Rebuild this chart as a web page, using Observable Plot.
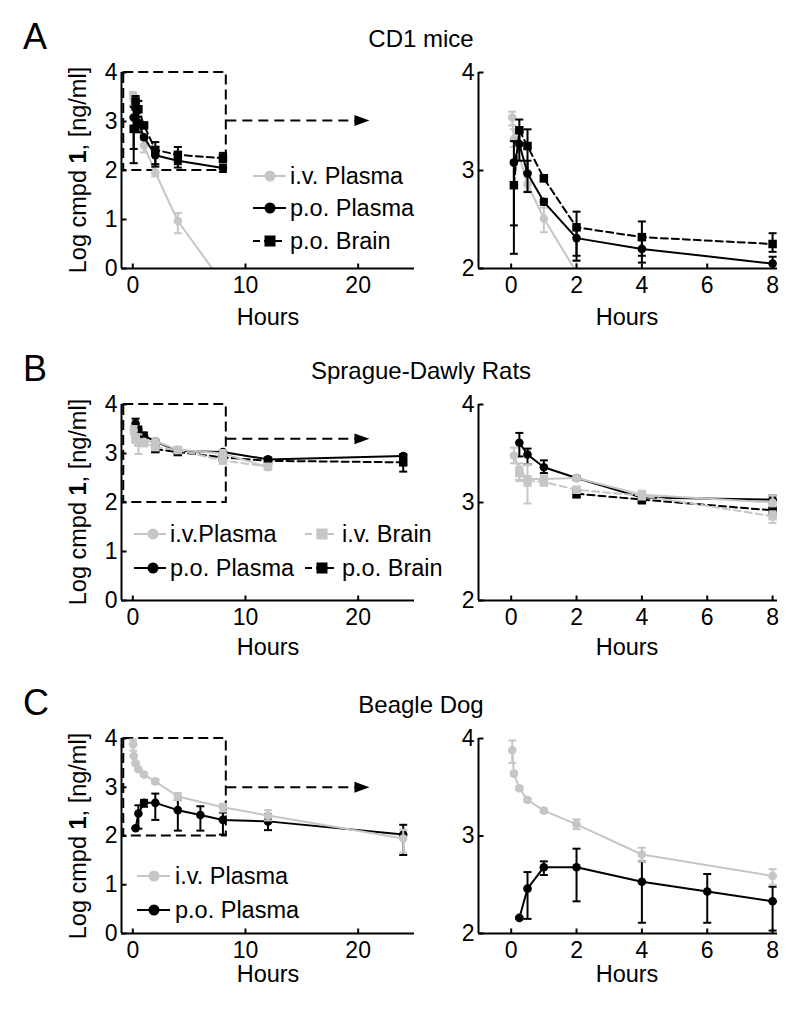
<!DOCTYPE html>
<html>
<head>
<meta charset="utf-8">
<script src="https://cdn.jsdelivr.net/npm/d3@7"></script>
<script src="https://cdn.jsdelivr.net/npm/@observablehq/plot@0.6"></script>
<style>
  html, body { margin: 0; padding: 0; background: #fff; }
  #root { position: relative; width: 800px; height: 1014px; overflow: hidden; background: #fff; }
  #root svg { position: absolute; }
</style>
</head>
<body>
<div id="root"></div>
<script>
// ---------------- DATA ----------------
// Panel A — CD1 mice
const miceIvPlasmaTime  = [0.033, 0.083, 0.5, 1, 2, 4, 8];
const miceIvPlasmaMean  = [3.54, 3.32, 2.86, 2.51, 1.96, 0.97, -0.30];
const miceIvPlasmaUpper = [3.60, 3.42, 2.93, 2.62, 2.08, 1.13, -0.20];
const miceIvPlasmaLower = [3.46, 3.24, 2.79, 2.37, 1.88, 0.72, -0.42];

const micePoPlasmaTime  = [0.083, 0.25, 0.5, 1, 2, 4, 8];
const micePoPlasmaMean  = [3.08, 3.27, 2.97, 2.68, 2.31, 2.20, 2.05];
const micePoPlasmaUpper = [3.30, 3.40, 3.10, 2.71, 2.40, 2.31, 2.12];
const micePoPlasmaLower = [2.44, 3.10, 2.78, 2.65, 2.08, 2.06, 1.97];

const micePoBrainTime  = [0.083, 0.25, 0.5, 1, 2, 4, 8];
const micePoBrainMean  = [2.85, 3.41, 3.25, 2.92, 2.42, 2.32, 2.25];
const micePoBrainUpper = [3.10, 3.52, 3.42, 2.95, 2.58, 2.48, 2.36];
const micePoBrainLower = [2.15, 3.28, 2.98, 2.89, 2.13, 2.13, 2.17];

// Panel B — Sprague-Dawly rats
const ratIvPlasmaTime  = [0.083, 0.25, 0.5, 1, 2, 4, 8, 12];
const ratIvPlasmaMean  = [3.48, 3.34, 3.24, 3.24, 3.25, 3.08, 3.00, 2.72];
const ratIvPlasmaUpper = [3.56, 3.40, 3.39, 3.27, 3.27, 3.12, 3.07, 2.76];
const ratIvPlasmaLower = [3.40, 3.23, 2.99, 3.21, 3.23, 3.04, 2.96, 2.67];

const ratIvBrainTime  = [0.25, 0.5, 1, 2, 4, 8, 12];
const ratIvBrainMean  = [3.30, 3.22, 3.21, 3.13, 3.07, 2.86, 2.73];
const ratIvBrainUpper = [3.36, 3.27, 3.27, 3.16, 3.11, 2.91, 2.78];
const ratIvBrainLower = [3.22, 3.17, 3.17, 3.10, 3.03, 2.79, 2.68];

const ratPoPlasmaTime  = [0.25, 0.5, 1, 2, 4, 8, 12, 24];
const ratPoPlasmaMean  = [3.61, 3.49, 3.36, 3.25, 3.05, 3.03, 2.88, 2.95];
const ratPoPlasmaUpper = [3.71, 3.55, 3.43, 3.27, 3.08, 3.07, 2.91, 2.99];
const ratPoPlasmaLower = [3.47, 3.39, 3.30, 3.23, 2.99, 2.99, 2.85, 2.91];

const ratPoBrainTime  = [2, 4, 8, 12, 24];
const ratPoBrainMean  = [3.09, 3.03, 2.92, 2.85, 2.82];
const ratPoBrainUpper = [3.13, 3.06, 2.95, 2.88, 2.97];
const ratPoBrainLower = [3.05, 3.00, 2.89, 2.82, 2.63];

// Panel C — Beagle dog
const dogIvPlasmaTime  = [0.033, 0.083, 0.25, 0.5, 1, 2, 4, 8, 12, 24];
const dogIvPlasmaMean  = [3.88, 3.64, 3.49, 3.37, 3.26, 3.12, 2.81, 2.59, 2.42, 1.95];
const dogIvPlasmaUpper = [3.98, 3.66, 3.51, 3.39, 3.28, 3.17, 2.88, 2.66, 2.53, 2.13];
const dogIvPlasmaLower = [3.75, 3.62, 3.47, 3.35, 3.24, 3.07, 2.74, 2.50, 2.32, 1.66];

const dogPoPlasmaTime  = [0.25, 0.5, 1, 2, 4, 6, 8, 12, 24];
const dogPoPlasmaMean  = [2.16, 2.46, 2.68, 2.68, 2.53, 2.43, 2.33, 2.30, 2.03];
const dogPoPlasmaUpper = [2.17, 2.63, 2.74, 2.87, 2.74, 2.61, 2.48, 2.45, 2.23];
const dogPoPlasmaLower = [2.15, 2.15, 2.60, 2.33, 2.11, 2.11, 2.03, 2.12, 1.61];

// Axes / labels
const fullTimeDomain = [-1, 25];
const zoomTimeDomain = [-1, 8.15];
const fullTimeTicks = [0, 10, 20];
const zoomTimeTicks = [0, 2, 4, 6, 8];
const fullLogDomain = [0, 4];
const zoomLogDomain = [2, 4];
const fullLogTicks = [0, 1, 2, 3, 4];
const zoomLogTicks = [2, 3, 4];
const zoomWindow = [{x1: -0.8, x2: 8.3, y1: 2, y2: 4}];
const arrowTipTime = 21;
const arrowLevels = [3.02, 3.3, 3.0];
const panelLetters = ["A", "B", "C"];
const panelTitles = ["CD1 mice", "Sprague-Dawly Rats", "Beagle Dog"];
const xLabel = "Hours";

// ---------------- HELPERS ----------------
const FONT = "'Liberation Sans', Arial, Helvetica, sans-serif";
const GRAY = "#c6c6c6";
const rows = (t, v, hi, lo) => t.map((d, i) => ({t: d, v: v[i], hi: hi[i], lo: lo[i]}));
const rad = (s) => Math.sqrt(s / Math.PI);
const capSym = {draw(c, s) { const r = rad(s); c.moveTo(-r, 0); c.lineTo(r, 0); }};
const tickUpSym = {draw(c, s) { const r = rad(s); c.moveTo(0, 0); c.lineTo(0, -r); }};
const tickRightSym = {draw(c, s) { const r = rad(s); c.moveTo(0, 0); c.lineTo(r, 0); }};
const headSym = {draw(c, s) { const r = rad(s); c.moveTo(0, 0); c.lineTo(-r, -r * 0.36); c.lineTo(-r, r * 0.36); c.closePath(); }};

const kinds = {
  ivPlasma: {color: GRAY, symbol: "circle", dash: null, label: "i.v. Plasma"},
  ivBrain:  {color: GRAY, symbol: "square", dash: "7,4", label: "i.v. Brain"},
  poPlasma: {color: "#000", symbol: "circle", dash: null, label: "p.o. Plasma"},
  poBrain:  {color: "#000", symbol: "square", dash: "7,4", label: "p.o. Brain"}
};

function seriesMarks(data, k) {
  const st = kinds[k];
  const o = {clip: true};
  return [
    Plot.ruleX(data, {x: "t", y1: "lo", y2: "hi", stroke: st.color, strokeWidth: 2, ...o}),
    Plot.dot(data, {x: "t", y: "hi", symbol: capSym, r: 4, stroke: st.color, strokeWidth: 2, fill: "none", ...o}),
    Plot.dot(data, {x: "t", y: "lo", symbol: capSym, r: 4, stroke: st.color, strokeWidth: 2, fill: "none", ...o}),
    Plot.line(data, {x: "t", y: "v", stroke: st.color, strokeWidth: 2, ...(st.dash ? {strokeDasharray: st.dash} : {}), ...o}),
    Plot.dot(data, {x: "t", y: "v", symbol: st.symbol, r: st.symbol === "square" ? 4.8 : 4.3, fill: st.color, stroke: "none", ...o})
  ];
}

const M = {l: 40, r: 15, t: 10, b: 40};
function panel({series, xDomain, xTicks, yDomain, yTicks, x0, x1, top, h, zoom, arrowY}) {
  const marks = [];
  if (zoom) {
    marks.push(Plot.rect(zoomWindow, {x1: "x1", x2: "x2", y1: "y1", y2: "y2", fill: "none", stroke: "#000", strokeWidth: 2, strokeDasharray: "10,5"}));
    const arr = [{from: zoomWindow[0].x2, to: arrowTipTime, y: arrowY}];
    marks.push(Plot.link(arr, {x1: "from", x2: d => d.to - 1, y1: "y", y2: "y", stroke: "#000", strokeWidth: 2, strokeDasharray: "10,6"}));
    marks.push(Plot.dot(arr, {x: "to", y: "y", symbol: headSym, r: 15, fill: "#000", stroke: "none"}));
  }
  for (const [data, k] of series) marks.push(...seriesMarks(data, k));
  marks.push(Plot.ruleY([yDomain[0]], {stroke: "#000", strokeWidth: 2}));
  marks.push(Plot.ruleX([xDomain[0]], {stroke: "#000", strokeWidth: 2}));
  marks.push(Plot.dot(xTicks, {x: d => d, y: () => yDomain[0], symbol: tickUpSym, r: 5, stroke: "#000", strokeWidth: 2, fill: "none"}));
  marks.push(Plot.dot(yTicks, {x: () => xDomain[0], y: d => d, symbol: tickRightSym, r: 5, stroke: "#000", strokeWidth: 2, fill: "none"}));
  const svg = Plot.plot({
    width: M.l + (x1 - x0) + M.r,
    height: M.t + h + M.b,
    marginLeft: M.l, marginRight: M.r, marginTop: M.t, marginBottom: M.b,
    x: {domain: xDomain, ticks: xTicks, tickSize: 0, tickPadding: 8, label: null, tickFormat: d => String(d)},
    y: {domain: yDomain, ticks: yTicks, tickSize: 0, tickPadding: 4, label: null, tickFormat: d => String(d)},
    style: {background: "transparent", overflow: "visible", fontSize: "23px", fontFamily: FONT, color: "#000"},
    marks
  });
  svg.style.position = "absolute";
  svg.style.left = (x0 - M.l) + "px";
  svg.style.top = (top - M.t) + "px";
  svg.style.maxWidth = "none";
  document.getElementById("root").appendChild(svg);
}

const mice = [
  [rows(miceIvPlasmaTime, miceIvPlasmaMean, miceIvPlasmaUpper, miceIvPlasmaLower), "ivPlasma"],
  [rows(micePoPlasmaTime, micePoPlasmaMean, micePoPlasmaUpper, micePoPlasmaLower), "poPlasma"],
  [rows(micePoBrainTime, micePoBrainMean, micePoBrainUpper, micePoBrainLower), "poBrain"]
];
const rats = [
  [rows(ratPoBrainTime, ratPoBrainMean, ratPoBrainUpper, ratPoBrainLower), "poBrain"],
  [rows(ratPoPlasmaTime, ratPoPlasmaMean, ratPoPlasmaUpper, ratPoPlasmaLower), "poPlasma"],
  [rows(ratIvBrainTime, ratIvBrainMean, ratIvBrainUpper, ratIvBrainLower), "ivBrain"],
  [rows(ratIvPlasmaTime, ratIvPlasmaMean, ratIvPlasmaUpper, ratIvPlasmaLower), "ivPlasma"]
];
const dogs = [
  [rows(dogPoPlasmaTime, dogPoPlasmaMean, dogPoPlasmaUpper, dogPoPlasmaLower), "poPlasma"],
  [rows(dogIvPlasmaTime, dogIvPlasmaMean, dogIvPlasmaUpper, dogIvPlasmaLower), "ivPlasma"]
];

const rowTops = [72, 404, 738];
const rowH = [196, 196, 195];
[mice, rats, dogs].forEach((series, i) => {
  panel({series, xDomain: fullTimeDomain, xTicks: fullTimeTicks, yDomain: fullLogDomain, yTicks: fullLogTicks,
         x0: 121, x1: 414, top: rowTops[i], h: rowH[i], zoom: true, arrowY: arrowLevels[i]});
  panel({series, xDomain: zoomTimeDomain, xTicks: zoomTimeTicks, yDomain: zoomLogDomain, yTicks: zoomLogTicks,
         x0: 478, x1: 777, top: rowTops[i], h: rowH[i], zoom: false});
});

// ---------------- TEXT & LEGENDS ----------------
const ov = d3.select("#root").append("svg")
  .attr("width", 800).attr("height", 1014)
  .style("left", "0px").style("top", "0px").style("pointer-events", "none")
  .attr("font-family", FONT);

const letterBase = [49, 381, 715];
const titleBase = [47, 379, 713];
const hoursBase = [325, 655, 982];
const ylabCenter = [170, 502, 836];
panelLetters.forEach((L, i) => {
  ov.append("text").attr("x", 23).attr("y", letterBase[i]).attr("font-size", 36).text(L);
  ov.append("text").attr("x", 421).attr("y", titleBase[i]).attr("font-size", 24).attr("text-anchor", "middle").text(panelTitles[i]);
  [268, 627].forEach(cx => ov.append("text").attr("x", cx).attr("y", hoursBase[i]).attr("font-size", 23.5).attr("text-anchor", "middle").text(xLabel));
  const yl = ov.append("text").attr("transform", `translate(86,${ylabCenter[i]}) rotate(-90)`)
    .attr("font-size", 23.5).attr("text-anchor", "middle");
  yl.append("tspan").text("Log cmpd ");
  yl.append("tspan").attr("font-weight", "bold").text("1");
  yl.append("tspan").text(", [ng/ml]");
});

function legendItem(k, mx, y, label, left = 17, right = 16, gap = 20) {
  const st = kinds[k];
  const g = ov.append("g");
  g.append("line").attr("x1", mx - left).attr("x2", mx + right).attr("y1", y).attr("y2", y)
    .attr("stroke", st.color).attr("stroke-width", 2).attr("stroke-dasharray", st.dash);
  if (st.symbol === "circle") g.append("circle").attr("cx", mx).attr("cy", y).attr("r", 5.5).attr("fill", st.color);
  else g.append("rect").attr("x", mx - 5.5).attr("y", y - 5.5).attr("width", 11).attr("height", 11).attr("fill", st.color);
  g.append("text").attr("x", mx + gap).attr("y", y).attr("dy", "0.36em").attr("font-size", 23.5).text(label);
}
legendItem("ivPlasma", 270, 176, "i.v. Plasma");
legendItem("poPlasma", 270, 208, "p.o. Plasma");
legendItem("poBrain", 270, 241, "p.o. Brain");

legendItem("ivPlasma", 153, 534, "i.v.Plasma", 19, 13, 17);
legendItem("ivBrain", 322, 534, "i.v. Brain", 17, 14, 20);
legendItem("poPlasma", 153, 568, "p.o. Plasma", 19, 13, 17);
legendItem("poBrain", 322, 568, "p.o. Brain", 17, 14, 20);

legendItem("ivPlasma", 154, 876, "i.v. Plasma", 17, 16, 21);
legendItem("poPlasma", 154, 910, "p.o. Plasma", 17, 16, 21);
</script>
</body>
</html>
